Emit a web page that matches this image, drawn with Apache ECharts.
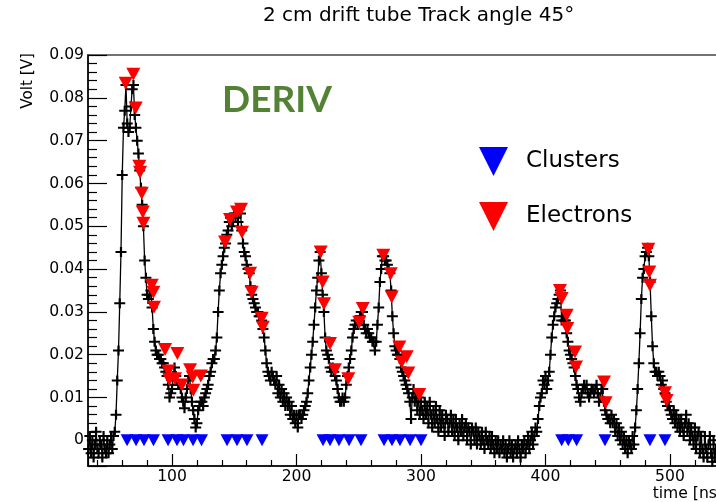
<!DOCTYPE html>
<html>
<head>
<meta charset="utf-8">
<script src="https://cdn.jsdelivr.net/npm/echarts@6/dist/echarts.min.js"></script>
<style>
  html, body { margin: 0; padding: 0; background: #fff; }
  #chart { width: 716px; height: 502px; }
</style>
</head>
<body>
<div id="chart"></div>
<script>
// ---- data ----
const chartTitle = '2 cm drift tube Track angle 45°';
const xAxisName = 'time [ns]';
const yAxisName = 'Volt [V]';
const tagText = 'DERIV';

// waveform: first sample time and sampling step [ns], then the sampled voltages [V]
const sampleStart = 33;
const sampleStep = 1;
const volts = [
  -0.002,0.001,-0.003,0.000,-0.004,-0.001,0.002,-0.002,-0.003,0.000,
  -0.001,-0.004,0.001,-0.002,-0.003,0.000,-0.003,-0.001,0.001,-0.002,
  0.001,0.002,0.006,0.014,0.021,0.032,0.044,0.062,0.073,0.077,
  0.083,0.074,0.072,0.073,0.078,0.082,0.083,0.076,0.073,0.070,
  0.067,0.063,0.059,0.055,0.050,0.042,0.038,0.034,0.033,0.034,
  0.035,0.031,0.026,0.023,0.021,0.020,0.020,0.019,0.019,0.018,
  0.018,0.017,0.016,0.015,0.013,0.010,0.011,0.012,0.015,0.017,
  0.015,0.014,0.013,0.013,0.012,0.010,0.009,0.0075,0.010,0.012,
  0.014,0.015,0.012,0.009,0.007,0.005,0.003,0.004,0.007,0.008,
  0.009,0.009,0.008,0.010,0.011,0.012,0.013,0.015,0.016,0.018,
  0.019,0.019,0.021,0.024,0.030,0.035,0.039,0.041,0.043,0.045,
  0.046,0.048,0.049,0.051,0.052,0.050,0.051,0.053,0.052,0.053,
  0.051,0.054,0.053,0.049,0.046,0.044,0.043,0.041,0.040,0.039,
  0.036,0.034,0.033,0.032,0.031,0.030,0.030,0.029,0.029,0.028,
  0.026,0.024,0.021,0.018,0.016,0.015,0.014,0.016,0.015,0.014,
  0.013,0.015,0.011,0.013,0.010,0.012,0.009,0.011,0.008,0.010,
  0.008,0.009,0.006,0.008,0.005,0.006,0.004,0.006,0.003,0.006,
  0.006,0.005,0.006,0.007,0.008,0.009,0.011,0.014,0.017,0.020,
  0.023,0.027,0.031,0.035,0.038,0.042,0.044,0.039,0.034,0.030,
  0.024,0.021,0.020,0.019,0.017,0.016,0.017,0.016,0.015,0.014,
  0.012,0.010,0.009,0.009,0.010,0.009,0.010,0.013,0.015,0.017,
  0.019,0.021,0.024,0.026,0.027,0.028,0.027,0.028,0.029,0.030,
  0.030,0.027,0.026,0.025,0.026,0.025,0.024,0.024,0.023,0.023,
  0.021,0.023,0.027,0.031,0.037,0.040,0.043,0.043,0.042,0.042,
  0.041,0.040,0.039,0.035,0.029,0.025,0.022,0.021,0.020,0.020,
  0.019,0.017,0.016,0.015,0.014,0.013,0.012,0.011,0.009,0.005,
  0.010,0.012,0.009,0.011,0.007,0.010,0.006,0.009,0.007,0.005,
  0.009,0.006,0.008,0.004,0.009,0.006,0.003,0.007,0.004,0.008,
  0.005,0.002,0.007,0.003,0.006,0.004,0.001,0.006,0.005,0.002,
  0.004,0.006,0.002,0.005,0.001,0.005,0.003,0.000,0.004,0.002,
  0.005,0.001,0.003,0.004,0.000,0.003,0.002,-0.001,0.003,0.002,
  0.000,0.003,-0.001,0.002,0.001,-0.001,0.002,0.000,-0.002,0.002,
  0.000,-0.001,0.001,-0.002,0.001,-0.001,-0.003,0.000,-0.002,0.000,
  -0.003,-0.001,-0.002,0.000,-0.003,-0.001,-0.004,-0.002,0.000,-0.003,
  -0.001,-0.004,-0.002,-0.001,-0.003,0.000,-0.002,-0.004,-0.001,-0.002,
  0.000,-0.003,-0.001,0.001,-0.002,0.000,0.002,-0.001,0.001,0.003,
  0.002,0.005,0.008,0.010,0.011,0.014,0.013,0.015,0.012,0.014,
  0.016,0.020,0.024,0.027,0.029,0.031,0.032,0.033,0.034,0.035,
  0.028,0.029,0.028,0.028,0.025,0.023,0.021,0.020,0.019,0.018,
  0.017,0.015,0.013,0.012,0.010,0.009,0.011,0.012,0.013,0.012,
  0.013,0.011,0.010,0.011,0.012,0.012,0.011,0.012,0.013,0.011,
  0.009,0.010,0.012,0.012,0.009,0.007,0.006,0.005,0.005,0.004,
  0.006,0.004,0.005,0.002,0.004,0.001,0.003,0.000,0.002,-0.001,
  0.001,-0.002,0.000,-0.003,0.000,-0.001,-0.002,0.001,-0.001,0.003,
  0.007,0.012,0.018,0.025,0.033,0.038,0.040,0.043,0.044,0.045,
  0.043,0.037,0.029,0.022,0.018,0.016,0.016,0.015,0.016,0.015,
  0.013,0.014,0.012,0.011,0.009,0.008,0.008,0.007,0.006,0.005,
  0.007,0.004,0.006,0.003,0.005,0.002,0.005,0.003,0.001,0.004,
  0.006,0.002,0.004,0.000,0.003,0.001,-0.001,0.003,-0.002,0.001,
  0.002,-0.003,0.001,-0.002,-0.004,0.001,-0.002,-0.004,-0.001,0.001,
  -0.003,-0.005,0.000,-0.004,-0.002,-0.005,-0.001,-0.003
];

// found electrons (red markers)
const electronTimes = [62.8,68.9,70.8,73.7,74.3,75.7,76.5,77.0,83.7,85.0,85.5,
  94.4,104.3,97.0,97.8,102.4,107.8,114.5,116.6,117.1,123.1,
  142.6,146.6,152.2,155.4,156.2,162.7,164.0,172.0,172.9,
  219.4,221.0,222.1,226.9,230.9,241.6,250.4,253.2,
  269.7,275.7,276.5,282.6,288.5,284.5,289.8,298.6,
  411.6,413.0,417.0,417.5,423.7,424.5,447.0,448.3,
  482.6,483.4,483.9,496.0,497.3];
const electronVolts = [0.0834,0.0855,0.0776,0.0640,0.0626,0.0577,0.0533,0.0507,0.0362,0.0346,0.0311,
  0.0212,0.0203,0.0162,0.0142,0.0144,0.0129,0.0165,0.0148,0.0117,0.0150,
  0.0463,0.0516,0.0533,0.0540,0.0486,0.0390,0.0346,0.0285,0.0264,
  0.0440,0.0370,0.0319,0.0226,0.0165,0.0144,0.0276,0.0308,
  0.0432,0.0389,0.0335,0.0218,0.0195,0.0183,0.0157,0.0107,
  0.0350,0.0331,0.0292,0.0261,0.0206,0.0171,0.0136,0.0088,
  0.0446,0.0393,0.0362,0.0111,0.0093];

// found clusters (blue markers, drawn on the 0 V line)
const clusterTimes = [63.9,71.1,77.5,85.1,96.8,104.0,109.2,116.9,123.7,
  144.2,152.2,160.2,172.3,
  221.3,226.9,234.1,242.2,251.8,
  270.3,276.7,283.1,291.2,300.0,
  413.0,418.3,425.0,447.8,483.9,496.0];
const clusterVolts = [0,0,0,0,0,0,0,0,0, 0,0,0,0, 0,0,0,0,0, 0,0,0,0,0, 0,0,0,0,0,0];

const seriesNames = ['Clusters', 'Electrons'];

// ---- build chart ----
const waveData = volts.map((v, i) => [sampleStart + i * sampleStep, v]);
const electronData = electronTimes.map((t, i) => [t, electronVolts[i]]);
const clusterData = clusterTimes.map((t, i) => [t, clusterVolts[i]]);

const FONT = 'DejaVu Sans';
const crossPath = 'path://M0,4H10V6H0Z M4,0H6V10H4Z';
const downTri = 'path://M0,0L10,0L5,10Z';

const chart = echarts.init(document.getElementById('chart'), null, { renderer: 'canvas' });
chart.setOption({
  animation: false,
  backgroundColor: '#ffffff',
  title: {
    text: chartTitle,
    left: 263, top: 6, padding: 0,
    textStyle: { fontFamily: FONT, fontSize: 20, fontWeight: 'normal', color: '#000' }
  },
  legend: {
    data: seriesNames,
    orient: 'vertical',
    left: 474, top: 142,
    itemWidth: 31, itemHeight: 29, itemGap: 26,
    icon: downTri,
    itemStyle: { opacity: 1 },
    textStyle: { fontFamily: FONT, fontSize: 23, color: '#000', padding: [0, 0, 0, 12] }
  },
  grid: {
    left: 88, top: 55, width: 638, height: 411,
    outerBoundsMode: 'none',
    containLabel: false,
    show: true, borderColor: '#444', borderWidth: 1.5, backgroundColor: 'transparent'
  },
  xAxis: {
    type: 'value', min: 32.5, max: 545, splitNumber: 5,
    name: xAxisName, nameLocation: 'end', nameGap: -3,
    nameTextStyle: { fontFamily: FONT, fontSize: 15.6, color: '#000', align: 'right', verticalAlign: 'top', padding: [20, 0, 0, 0] },
    axisLine: { show: true, onZero: false, lineStyle: { color: '#000', width: 1.5 } },
    axisTick: { show: true, inside: true, length: 12, lineStyle: { color: '#000', width: 1.2 } },
    minorTick: { show: true, splitNumber: 5, length: 6, lineStyle: { color: '#000', width: 1.2 } },
    axisLabel: { fontFamily: FONT, fontSize: 15.6, color: '#000', margin: 3, showMinLabel: false, showMaxLabel: false },
    splitLine: { show: false }
  },
  yAxis: {
    type: 'value', min: -0.006, max: 0.09, splitNumber: 10,
    axisLine: { show: true, onZero: false, lineStyle: { color: '#000', width: 1.5 } },
    axisTick: { show: true, inside: true, length: 19, lineStyle: { color: '#000', width: 1.2 } },
    minorTick: { show: true, splitNumber: 5, length: 9, lineStyle: { color: '#000', width: 1.2 } },
    axisLabel: { fontFamily: FONT, fontSize: 15.6, color: '#000', margin: 4, showMinLabel: false },
    splitLine: { show: false }
  },
  graphic: [
    {
      type: 'text', x: 222, y: 100,
      style: { text: tagText, fill: '#548235', font: 'bold 37px Lato', textVerticalAlign: 'middle', textAlign: 'left' }
    },
    {
      type: 'text', x: 28, y: 53, rotation: Math.PI / 2,
      style: { text: yAxisName, fill: '#000', font: '15.2px "DejaVu Sans"', textAlign: 'right', textVerticalAlign: 'middle' }
    }
  ],
  series: [
    {
      name: 'waveform', type: 'line', data: waveData,
      symbol: crossPath, symbolSize: [11, 10], showSymbol: true,
      lineStyle: { color: '#000', width: 1.3 },
      itemStyle: { color: '#000' },
      z: 2, silent: true
    },
    {
      name: seriesNames[0], type: 'scatter', data: clusterData,
      symbol: downTri, symbolSize: [13, 12],
      itemStyle: { color: '#0000ff', opacity: 1 }, z: 5
    },
    {
      name: seriesNames[1], type: 'scatter', data: electronData,
      symbol: downTri, symbolSize: [14, 13],
      itemStyle: { color: '#ff0000', opacity: 1 }, z: 6
    }
  ]
});
</script>
</body>
</html>
